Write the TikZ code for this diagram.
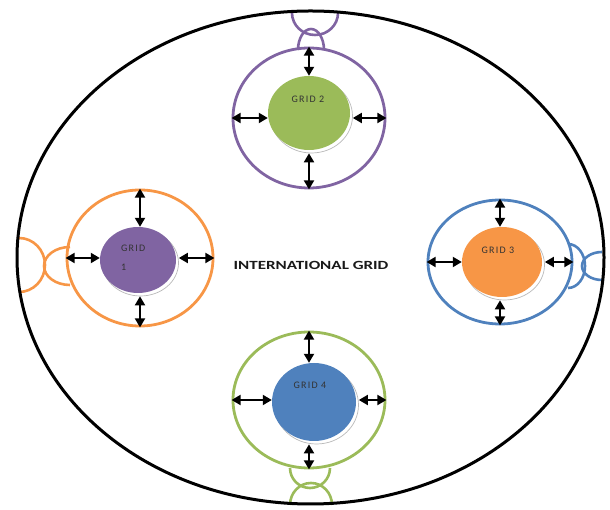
\documentclass[tikz,border=0pt]{standalone}
\usepackage{fontspec}
\setmainfont{Carlito}
\newfontfamily\lblfont[LetterSpace=12]{Carlito}
\usetikzlibrary{shapes.geometric,arrows.meta}
\definecolor{opurple}{HTML}{8064A2}
\definecolor{ogreen}{HTML}{9BBB59}
\definecolor{oorange}{HTML}{F79646}
\definecolor{oblue}{HTML}{4F81BD}
\begin{document}
\begin{tikzpicture}[x=1pt,y=1pt,
  ring/.style={ellipse, draw, line width=2.8pt, inner sep=0pt},
  core/.style={ellipse, inner sep=0pt},
  shade/.style={ellipse, inner sep=0pt, fill=white, draw=gray!55, line width=0.7pt},
  link/.style={line width=2.6pt},
  dbl/.style={{Triangle[length=9pt,width=10pt]}-{Triangle[length=9pt,width=10pt]}, line width=2pt, black},
  lbl/.style={font=\lblfont\fontsize{10}{11}\selectfont, text=black!80, inner sep=0pt}]
\useasboundingbox (0,0) rectangle (610,510);

% connecting loops
\draw[link, opurple] (292,497) arc[start angle=180, end angle=360, x radius=23, y radius=22];
\draw[link, opurple] (324,460) arc[start angle=0, end angle=180, x radius=13, y radius=21];
\draw[link, oorange] (19,218) arc[start angle=-90, end angle=90, x radius=26, y radius=27];
\draw[link, oorange] (70,263) arc[start angle=90, end angle=270, x radius=26, y radius=19];
\draw[link, oblue] (568,222) arc[start angle=-90, end angle=90, x radius=17, y radius=22];
\draw[link, oblue] (602,258) arc[start angle=90, end angle=270, x radius=20, y radius=14];
\draw[link, ogreen] (290,42) arc[start angle=180, end angle=360, x radius=20, y radius=20];
\draw[link, ogreen] (332,5) arc[start angle=0, end angle=180, x radius=21, y radius=22];

% international grid
\node[ellipse, draw, line width=3pt, inner sep=0pt, minimum width=587pt, minimum height=493pt] (world) at (310.5,252.5) {};
\node[font=\bfseries\fontsize{12.5}{14}\selectfont, text=black!90] (intl) at (311,245) {\scalebox{1.36}[1]{INTERNATIONAL GRID}};

% grid 2
\node[ring, draw=opurple, minimum width=152pt, minimum height=140pt] (g2o) at (309,392) {};
\node[shade, minimum width=82pt, minimum height=74pt] (g2s) at (311.5,394) {};
\node[core, fill=ogreen, minimum width=82pt, minimum height=74pt] (g2i) at (309,397) {};
\node[lbl] (t2) at (308,411) {GRID 2};

% grid 1
\node[ring, draw=oorange, minimum width=146pt, minimum height=136pt] (g1o) at (140,252) {};
\node[shade, minimum width=76pt, minimum height=66pt] (g1s) at (140.5,247) {};
\node[core, fill=opurple, minimum width=76pt, minimum height=66pt] (g1i) at (138,250) {};
\node[lbl, anchor=west] (t1a) at (121,262) {GRID};
\node[lbl, anchor=west] (t1b) at (121,243) {1};

% grid 3
\node[ring, draw=oblue, minimum width=144pt, minimum height=124pt] (g3o) at (500,248) {};
\node[shade, minimum width=80pt, minimum height=70pt] (g3s) at (504.5,245) {};
\node[core, fill=oorange, minimum width=80pt, minimum height=70pt] (g3i) at (502,248) {};
\node[lbl] (t3) at (498,260) {GRID 3};

% grid 4
\node[ring, draw=ogreen, minimum width=152pt, minimum height=136pt] (g4o) at (309,110) {};
\node[shade, minimum width=84pt, minimum height=78pt] (g4s) at (316.5,105) {};
\node[core, fill=oblue, minimum width=84pt, minimum height=78pt] (g4i) at (314,108) {};
\node[lbl] (t4) at (310,125) {GRID 4};

% arrows
\foreach \g in {1,2,3,4}{
  \draw[dbl] (g\g o.north) -- (g\g o.north |- g\g i.north);
  \draw[dbl] (g\g o.south) -- (g\g o.south |- g\g s.south);
  \draw[dbl] (g\g o.west) -- (g\g o.west -| g\g i.west);
  \draw[dbl] (g\g o.east) -- (g\g o.east -| g\g s.east);
}
\end{tikzpicture}
\end{document}
